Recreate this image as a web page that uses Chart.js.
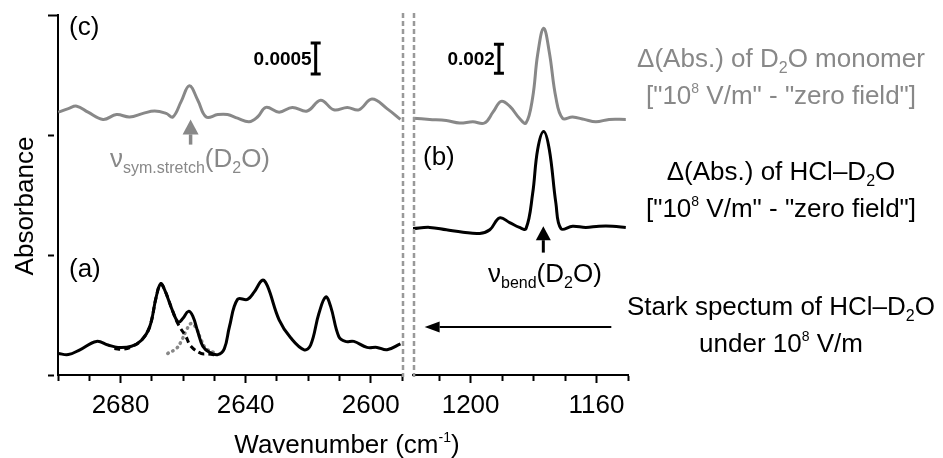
<!DOCTYPE html>
<html>
<head>
<meta charset="utf-8">
<script src="https://cdn.jsdelivr.net/npm/chart.js@4.4.1/dist/chart.umd.min.js"></script>
<style>
  body { margin: 0; background: #fff; }
  #fig { position: relative; width: 943px; height: 458px; overflow: hidden;
         font-family: "Liberation Sans", Arial, sans-serif; font-size: 26px; color: #000; }
  canvas { position: absolute; top: 0; }
  .t { position: absolute; white-space: nowrap; line-height: 26px; }
  .blk { position: absolute; left: 611px; width: 340px; text-align: center; line-height: 37px; white-space: nowrap; }
  sub, sup { line-height: 0; }
  sub { font-size: 16px; vertical-align: -6px; }
  sup { font-size: 14px; vertical-align: 11px; }
  .gray { color: #888; }
</style>
</head>
<body>
<div id="fig">
  <canvas id="left" width="410" height="458" style="left:0"></canvas>
  <canvas id="right" width="240" height="458" style="left:400px"></canvas>

  <div class="t" style="left:69px;top:13px">(c)</div>
  <div class="t" style="left:69px;top:255px">(a)</div>
  <div class="t" style="left:423px;top:143px">(b)</div>
  <div class="t gray" style="left:110px;top:145px">ν<sub>sym.stretch</sub>(D<sub>2</sub>O)</div>
  <div class="t" style="left:488px;top:260px">ν<sub>bend</sub>(D<sub>2</sub>O)</div>

  <div class="blk gray" style="top:40px">Δ(Abs.) of D<sub>2</sub>O monomer<br>["10<sup>8</sup> V/m" - "zero field"]</div>
  <div class="blk" style="top:153px">Δ(Abs.) of HCl–D<sub>2</sub>O<br>["10<sup>8</sup> V/m" - "zero field"]</div>
  <div class="blk" style="top:288px">Stark spectum of HCl–D<sub>2</sub>O<br>under 10<sup>8</sup> V/m</div>

  <div class="t" style="left:147px;width:400px;text-align:center;top:431px">Wavenumber (cm<sup>-1</sup>)</div>
  <div class="t" style="left:-76px;width:200px;text-align:center;top:193px;transform:rotate(-90deg)">Absorbance</div>
</div>

<script>
// tick labels
const leftLabels = [2680, 2640, 2600];
const rightLabels = [1200, 1160];

// (a) Stark spectrum of HCl-D2O, OD stretch region
const starkWn = [2699.9, 2696.7, 2693.0, 2687.7, 2684.0, 2680.8, 2676.5, 2673.3, 2670.7, 2668.6,
  2667.2, 2665.9, 2663.3, 2661.5, 2660.1, 2658.3, 2656.9, 2655.3, 2653.7, 2651.6,
  2648.9, 2646.8, 2645.2, 2642.6, 2639.4, 2637.3, 2634.6, 2633.0, 2629.3, 2625.6,
  2621.3, 2619.2, 2616.6, 2614.4, 2612.8, 2610.2, 2608.1, 2605.4, 2601.2, 2598.0, 2594.8, 2590.5];
const starkAbs = [0.18, 0.17, 0.21, 0.28, 0.25, 0.23, 0.24, 0.29, 0.40, 0.65,
  0.76, 0.71, 0.53, 0.44, 0.47, 0.53, 0.49, 0.36, 0.24, 0.19,
  0.17, 0.22, 0.40, 0.63, 0.63, 0.69, 0.79, 0.74, 0.46, 0.31,
  0.21, 0.25, 0.51, 0.65, 0.57, 0.32, 0.28, 0.28, 0.23, 0.23, 0.21, 0.26];

// fitted components of the overlapping band
const fitDashWn = [2682.0, 2679.0, 2676.5, 2673.3, 2670.7, 2668.6, 2667.2, 2665.9, 2663.3, 2661.5, 2659.1, 2657.5, 2654.3, 2652.2, 2649.0];
const fitDashAbs = [0.22, 0.215, 0.235, 0.29, 0.40, 0.65, 0.76, 0.71, 0.53, 0.42, 0.32, 0.24, 0.18, 0.175, 0.165];
const fitDotWn = [2664.9, 2662.2, 2660.6, 2659.0, 2657.4, 2655.8, 2654.2, 2652.6, 2649.5];
const fitDotAbs = [0.18, 0.22, 0.28, 0.37, 0.43, 0.39, 0.29, 0.22, 0.18];

// (c) D2O monomer difference spectrum
const monoStretchWn = [2699.9, 2696.7, 2694.0, 2690.4, 2685.6, 2681.3, 2677.1, 2672.8, 2669.1, 2665.4,
  2663.3, 2660.6, 2658.0, 2655.3, 2652.6, 2648.9, 2645.8, 2642.6, 2638.9, 2636.2,
  2633.5, 2629.3, 2625.1, 2620.3, 2616.0, 2611.8, 2607.5, 2603.8, 2599.6, 2594.8, 2590.5];
const monoStretchAbs = [2.19, 2.22, 2.24, 2.19, 2.13, 2.17, 2.15, 2.18, 2.20, 2.18,
  2.15, 2.28, 2.41, 2.29, 2.15, 2.17, 2.17, 2.14, 2.11, 2.15,
  2.23, 2.19, 2.23, 2.20, 2.29, 2.21, 2.23, 2.21, 2.30, 2.22, 2.13];
const monoBendWn = [1218.3, 1213.0, 1207.7, 1203.5, 1199.3, 1195.6, 1192.9, 1190.3, 1187.6, 1184.5, 1182.4,
  1180.3, 1178.7, 1176.8, 1175.0, 1172.9, 1170.8, 1167.6, 1163.9, 1160.2, 1156.0, 1150.7];
const monoBendAbs = [2.14, 2.13, 2.12, 2.10, 2.11, 2.10, 2.19, 2.28, 2.24, 2.14, 2.10,
  2.31, 2.67, 2.89, 2.69, 2.31, 2.14, 2.15, 2.13, 2.11, 2.13, 2.13];

// (b) HCl-D2O difference spectrum, bend region
const complexBendWn = [1218.3, 1213.0, 1207.7, 1202.4, 1197.1, 1193.9, 1190.8, 1187.6, 1184.5, 1182.4,
  1180.3, 1178.7, 1176.8, 1175.0, 1172.9, 1171.3, 1167.6, 1163.4, 1159.2, 1154.9, 1150.7];
const complexBendAbs = [1.22, 1.23, 1.21, 1.19, 1.18, 1.21, 1.31, 1.27, 1.23, 1.22,
  1.51, 1.88, 2.03, 1.88, 1.43, 1.22, 1.24, 1.23, 1.24, 1.24, 1.23];

// annotation anchors (wavenumber, absorbance offset)
const stretchArrow = { wn: 2657.6, from: 1.92, to: 2.13 };
const bendArrow = { wn: 1176.9, from: 1.02, to: 1.24 };
const starkArrow = { from: 1155.3, to: 1214.6, at: 0.40 };
const leftBar = { wn: 2617.6, lo: 2.508, hi: 2.767, label: "0.0005" };
const rightBar = { wn: 1191.0, lo: 2.514, hi: 2.756, label: "0.002" };

Chart.defaults.font.family = '"Liberation Sans", Arial, sans-serif';
Chart.defaults.color = "#000";

const pts = (xs, ys) => xs.map((x, i) => ({ x: x, y: ys[i] }));

function line(data, color, width, dash) {
  return {
    data: data, borderColor: color, borderWidth: width, borderDash: dash || [],
    pointRadius: 0, tension: 0.4, fill: false, borderCapStyle: dash && dash[0] < 2 ? "round" : "butt"
  };
}

function arrow(ctx, x1, y1, x2, y2, head, halfW, width, color) {
  const a = Math.atan2(y2 - y1, x2 - x1);
  const bx = x2 - head * Math.cos(a), by = y2 - head * Math.sin(a);
  ctx.save();
  ctx.strokeStyle = color; ctx.fillStyle = color; ctx.lineWidth = width;
  ctx.beginPath(); ctx.moveTo(x1, y1); ctx.lineTo(bx, by); ctx.stroke();
  ctx.beginPath(); ctx.moveTo(x2, y2);
  ctx.lineTo(bx + halfW * Math.sin(a), by - halfW * Math.cos(a));
  ctx.lineTo(bx - halfW * Math.sin(a), by + halfW * Math.cos(a));
  ctx.closePath(); ctx.fill();
  ctx.restore();
}

function scaleBar(chart, bar) {
  const { ctx, scales: { x, y } } = chart;
  const px = x.getPixelForValue(bar.wn);
  const y1 = y.getPixelForValue(bar.hi), y2 = y.getPixelForValue(bar.lo);
  ctx.save();
  ctx.strokeStyle = "#000"; ctx.lineWidth = 3;
  ctx.beginPath();
  ctx.moveTo(px, y1); ctx.lineTo(px, y2);
  ctx.moveTo(px - 5, y1); ctx.lineTo(px + 5, y1);
  ctx.moveTo(px - 5, y2); ctx.lineTo(px + 5, y2);
  ctx.stroke();
  ctx.font = 'bold 19px "Liberation Sans", Arial, sans-serif';
  ctx.textAlign = "right"; ctx.textBaseline = "middle"; ctx.fillStyle = "#000";
  ctx.fillText(bar.label, px - 4, (y1 + y2) / 2 + 1);
  ctx.restore();
}

function breakLine(chart, px) {
  const { ctx, chartArea } = chart;
  ctx.save();
  ctx.strokeStyle = "#999"; ctx.lineWidth = 2.5; ctx.setLineDash([5, 3]);
  ctx.beginPath(); ctx.moveTo(px, chartArea.top - 2); ctx.lineTo(px, chartArea.bottom + 2); ctx.stroke();
  ctx.restore();
}

function xAxis(min, max, labels) {
  return {
    type: "linear", reverse: true, min: min, max: max,
    afterFit: (s) => { s.height = 40; },
    border: { color: "#000", width: 2 },
    grid: {
      drawOnChartArea: false, color: "#000", tickLength: 8, tickWidth: 2,
      tickBorderDash: (c) => (c.tick && labels.includes(c.tick.value) ? [] : [5, 10])
    },
    ticks: {
      stepSize: 10, includeBounds: false, autoSkip: false, maxRotation: 0, padding: 7,
      font: { size: 26 },
      callback: (v) => (labels.includes(v) ? String(v) : "")
    }
  };
}

new Chart(document.getElementById("left"), {
  type: "line",
  data: {
    datasets: [
      line(pts(starkWn, starkAbs), "#000", 3),
      line(pts(fitDashWn, fitDashAbs), "#000", 3, [6, 4]),
      line(pts(fitDotWn, fitDotAbs), "#888", 3.5, [0.5, 5]),
      line(pts(monoStretchWn, monoStretchAbs), "#888", 3)
    ]
  },
  options: {
    responsive: false, animation: false, events: [],
    layout: { padding: { top: 15, right: 8, bottom: 43, left: 0 } },
    plugins: { legend: { display: false }, tooltip: { enabled: false } },
    scales: {
      x: xAxis(2590, 2700, leftLabels),
      y: {
        min: 0, max: 3,
        afterFit: (s) => { s.width = 58; },
        border: { color: "#000", width: 2 },
        grid: {
          drawOnChartArea: false, color: "#000", tickLength: 10, tickWidth: 2,
          tickBorderDash: (c) => (c.tick && c.tick.value === 3 ? [] : [6, 10])
        },
        ticks: { stepSize: 1, display: false }
      }
    }
  },
  plugins: [{
    id: "leftMarks",
    afterDraw(chart) {
      const { ctx, scales: { x, y } } = chart;
      breakLine(chart, chart.chartArea.right + 1);
      const ax = x.getPixelForValue(stretchArrow.wn);
      arrow(ctx, ax, y.getPixelForValue(stretchArrow.from), ax, y.getPixelForValue(stretchArrow.to), 15, 8, 3.5, "#888");
      scaleBar(chart, leftBar);
    }
  }]
});

new Chart(document.getElementById("right"), {
  type: "line",
  data: {
    datasets: [
      line(pts(complexBendWn, complexBendAbs), "#000", 3),
      line(pts(monoBendWn, monoBendAbs), "#888", 3)
    ]
  },
  options: {
    responsive: false, animation: false, events: [],
    layout: { padding: { top: 15, right: 12, bottom: 43, left: 13 } },
    plugins: { legend: { display: false }, tooltip: { enabled: false } },
    scales: {
      x: xAxis(1150, 1218.3, rightLabels),
      y: { display: false, min: 0, max: 3 }
    }
  },
  plugins: [{
    id: "rightMarks",
    afterDraw(chart) {
      const { ctx, scales: { x, y } } = chart;
      breakLine(chart, chart.chartArea.left + 1);
      const bx = x.getPixelForValue(bendArrow.wn);
      arrow(ctx, bx, y.getPixelForValue(bendArrow.from), bx, y.getPixelForValue(bendArrow.to), 14, 7.5, 3, "#000");
      const sy = y.getPixelForValue(starkArrow.at);
      arrow(ctx, x.getPixelForValue(starkArrow.from), sy, x.getPixelForValue(starkArrow.to), sy, 15, 5.5, 2, "#000");
      scaleBar(chart, rightBar);
    }
  }]
});
</script>
</body>
</html>
